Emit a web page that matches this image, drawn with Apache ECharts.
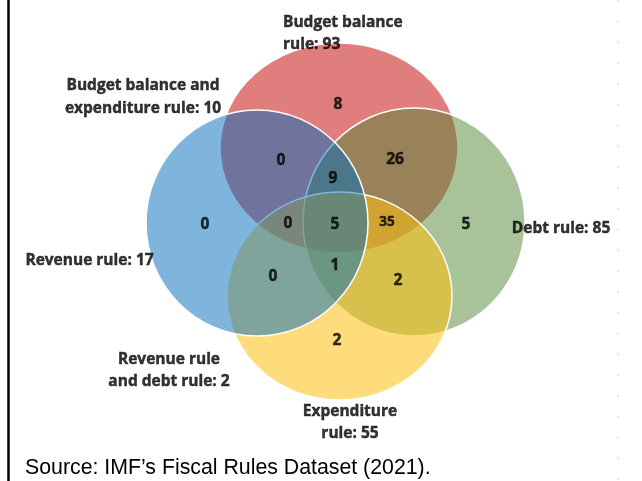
<!DOCTYPE html>
<html><head><meta charset="utf-8">
<script src="https://cdn.jsdelivr.net/npm/echarts@6/dist/echarts.min.js"></script>
<style>html,body{margin:0;padding:0;background:#fff;}#chart{width:642px;height:481px;}</style>
</head><body><div id="chart"></div>
<script>
// ---------------- data ----------------
const setNames = ['Budget balance rule', 'Debt rule', 'Expenditure rule', 'Revenue rule'];
const setTotals = [93, 85, 55, 17];
const regionNames = [
  'Budget balance only', 'Budget balance & revenue', 'Budget balance & debt',
  'Budget balance, debt & revenue', 'Revenue only', 'Budget balance, expenditure & revenue',
  'All four rules', 'Budget balance, debt & expenditure', 'Debt only',
  'Expenditure & revenue', 'Debt, expenditure & revenue', 'Debt & expenditure', 'Expenditure only'
];
const regionCounts = [8, 0, 26, 9, 0, 0, 5, 35, 5, 0, 1, 2, 2];
const pairNames = ['Budget balance and expenditure rule', 'Revenue rule and debt rule'];
const pairTotals = [10, 2];
const sourceNote = 'Source: IMF\u2019s Fiscal Rules Dataset (2021).';

// ---------------- layout (canvas-unit coordinate system) ----------------
const W = 642, H = 481;
// ellipses, same order as setNames (also the drawing order, bottom -> top)
const ellipseGeom = [
  [339, 148, 119, 105],
  [414, 222, 111, 114],
  [339.5, 296, 112.5, 104],
  [257, 223, 111, 113]
];
const ellipseFill = ['rgba(199,19,19,0.55)', 'rgba(81,133,53,0.5)', 'rgba(255,191,15,0.55)', 'rgba(0,107,187,0.5)'];
const regionPos = [[338,103],[281,159],[395,158],[333,177],[205,223],[288,222],[335,223],[387,221],[466,223],[273,275],[335,264],[398,279],[337,339]];
const regionFontSize = [15.5,15.5,15.5,15.5,15.5,15.5,15.5,13.5,15.5,15.5,15.5,15.5,15.5];
const setLabelLayout = [
  {pos:[283, 32], align:'left', breakAfter:'Budget balance'},
  {pos:[561, 227], align:'center', breakAfter:null},
  {pos:[350, 421], align:'center', breakAfter:'Expenditure'},
  {pos:[89.5, 259], align:'center', breakAfter:null}
];
const pairLabelLayout = [
  {pos:[143, 95.5], align:'center', breakAfter:'Budget balance and'},
  {pos:[169, 369], align:'center', breakAfter:'Revenue rule'}
];

const FONT = '"Open Sans", "Noto Sans", sans-serif';
function wrap(text, after){
  if(!after) return text;
  return after + '\n' + text.slice(after.length).replace(/^\s+/, '');
}

const ellipseData = setNames.map((n, i) => ({name:n, value: ellipseGeom[i]}));

const regionData = regionNames.map((n, i) => ({
  name: n,
  value: [regionPos[i][0], regionPos[i][1], regionCounts[i]],
  label: {fontSize: regionFontSize[i]}
}));

const titleData = setNames.map((n, i) => ({
  name: n,
  value: [setLabelLayout[i].pos[0], setLabelLayout[i].pos[1]],
  label: {formatter: wrap(n + ': ' + setTotals[i], setLabelLayout[i].breakAfter), align: setLabelLayout[i].align}
})).concat(pairNames.map((n, i) => ({
  name: n,
  value: [pairLabelLayout[i].pos[0], pairLabelLayout[i].pos[1]],
  label: {formatter: wrap(n + ': ' + pairTotals[i], pairLabelLayout[i].breakAfter), align: pairLabelLayout[i].align}
})));

const textBold = {color:'#000', fontWeight:'bold', fontFamily:FONT, textBorderColor:'#000', textBorderWidth:0.45, offset:[0, 1.5]};

const chart = echarts.init(document.getElementById('chart'), null, {renderer:'canvas'});
chart.setOption({
  animation: false,
  backgroundColor: '#ffffff',
  grid: {left:0, right:0, top:0, bottom:0},
  xAxis: {type:'value', min:0, max:W, show:false},
  yAxis: {type:'value', min:0, max:H, inverse:true, show:false},
  graphic: [
    {type:'line', shape:{x1:8.5, y1:0, x2:8.5, y2:H}, style:{stroke:'#000', lineWidth:2.5}, z:100},
    {type:'line', shape:{x1:618, y1:0, x2:618, y2:H}, style:{stroke:'#c8c8c8', lineWidth:1.2, lineDash:[1.5, 19.3]}, z:100},
    {type:'text', x:25, y:468, style:{text: sourceNote, font:'21.3px "Liberation Sans", Arial, sans-serif', fill:'#000', verticalAlign:'middle', align:'left'}, z:100}
  ],
  series: [
    {
      type:'custom', silent:true, z:1,
      data: ellipseData,
      renderItem: function(params, api){
        const c = api.coord([api.value(0), api.value(1)]);
        const s = api.size([api.value(2), api.value(3)]);
        return {type:'ellipse', shape:{cx:c[0], cy:c[1], rx:s[0], ry:s[1]},
          style:{fill: ellipseFill[params.dataIndex], stroke:'#ffffff', lineWidth:1.5}};
      }
    },
    {
      type:'scatter', silent:true, z:5, symbolSize:1,
      itemStyle:{color:'rgba(0,0,0,0)'},
      data: regionData,
      label:Object.assign({show:true, position:'inside', formatter: p => String(p.value[2])}, textBold)
    },
    {
      type:'scatter', silent:true, z:5, symbolSize:1,
      itemStyle:{color:'rgba(0,0,0,0)'},
      data: titleData,
      label:Object.assign({show:true, position:'inside', fontSize:15.5, lineHeight:22.5, verticalAlign:'middle'}, textBold)
    }
  ]
});
</script></body></html>
